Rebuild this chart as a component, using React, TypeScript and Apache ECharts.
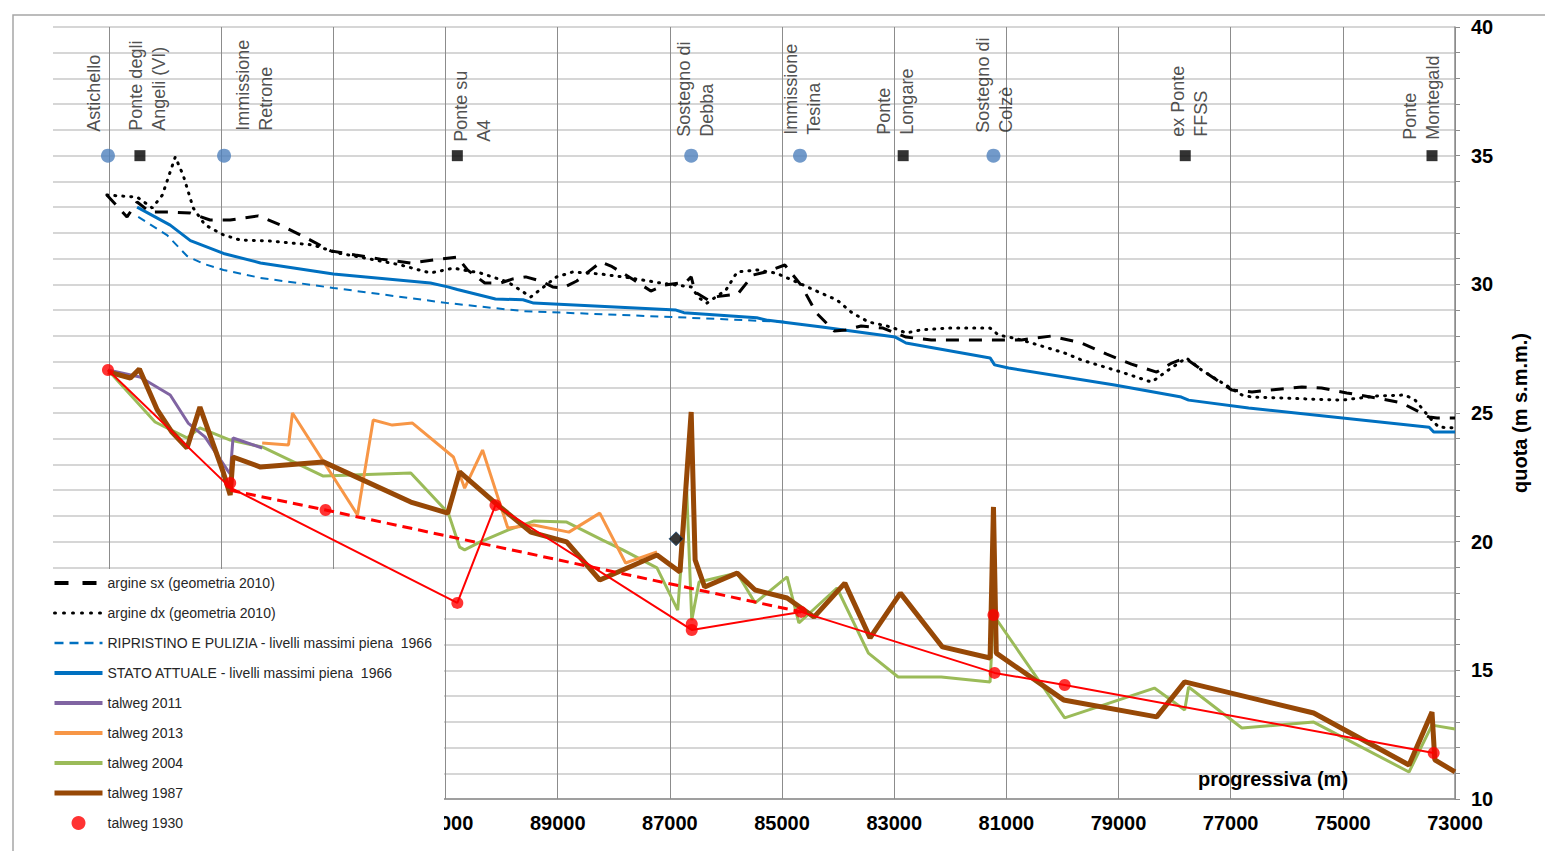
import React, { useEffect, useRef } from "react";
import * as echarts from "echarts";

// ---------------- DATA ----------------
// progressiva (m), quota (m s.m.m.)
const argineSx: number[][] = [
  [97040, 33.47], [96680, 32.62], [96500, 33.2], [96270, 32.81], [95910, 32.81], [95550, 32.77],
  [95200, 32.5], [94840, 32.5], [94340, 32.66], [93950, 32.31], [93410, 31.72], [93050, 31.3],
  [92610, 31.14], [92160, 30.98], [91620, 30.83], [91120, 30.98], [90790, 31.06], [90610, 30.56],
  [90300, 30.05], [90020, 30.05], [89800, 30.21], [89570, 30.29], [89300, 30.13], [89090, 29.9],
  [88910, 29.86], [88660, 30.13], [88410, 30.56], [88230, 30.87], [88050, 30.71], [87640, 30.17],
  [87340, 29.74], [87090, 29.97], [86710, 30.09], [86620, 30.29], [86550, 29.7], [86320, 29.39],
  [86210, 29.51], [85790, 29.62], [85520, 30.36], [85290, 30.48], [84950, 30.75], [84660, 29.97],
  [84390, 28.89], [84070, 28.19], [83860, 28.23], [83590, 28.38], [83200, 28.3], [82790, 27.95],
  [82340, 27.84], [80730, 27.84], [80200, 27.99], [79660, 27.72], [79210, 27.29], [78770, 26.9],
  [78320, 26.59], [78050, 26.94], [77820, 27.14], [77430, 26.55], [76980, 25.89], [76620, 25.82],
  [75730, 26.01], [75380, 25.97], [74930, 25.78], [74390, 25.58], [73950, 25.39], [73460, 24.84],
  [73320, 24.81], [73000, 24.81],
];

const argineDx: number[][] = [
  [97040, 33.47], [96500, 33.39], [96230, 32.97], [96050, 33.47], [95820, 34.95], [95680, 34.25],
  [95500, 32.97], [95290, 32.31], [94960, 31.92], [94660, 31.72], [94120, 31.68], [93360, 31.53],
  [92930, 31.22], [92340, 30.98], [91800, 30.75], [91270, 30.44], [90860, 30.63], [90380, 30.44],
  [89890, 30.09], [89480, 29.51], [89020, 30.29], [88730, 30.48], [88230, 30.4], [87710, 30.25],
  [87160, 30.05], [86620, 29.9], [86480, 29.47], [86340, 29.27], [86000, 29.78], [85800, 30.48],
  [85450, 30.56], [85110, 30.44], [84700, 30.05], [84430, 29.78], [84020, 29.39], [83750, 28.89],
  [83460, 28.54], [83050, 28.34], [82790, 28.11], [82520, 28.23], [82040, 28.3], [81290, 28.3],
  [81140, 28.03], [80860, 27.91], [80550, 27.72], [79960, 27.33], [79660, 27.06], [78950, 26.59],
  [78410, 26.2], [78110, 26.67], [77790, 27.14], [77520, 26.67], [76800, 25.7], [76620, 25.62],
  [75020, 25.5], [74390, 25.66], [73890, 25.7], [73710, 25.5], [73460, 24.84], [73290, 24.45],
  [73000, 24.42],
];

const ripristino1966: number[][] = [
  [96480, 32.62], [95960, 31.9], [95610, 31.1], [95320, 30.8], [94960, 30.56], [94300, 30.25],
  [93000, 29.86], [90960, 29.27], [89620, 28.96], [86960, 28.73], [84930, 28.54],
];

const statoAttuale1966: number[][] = [
  [96500, 33.0], [95910, 32.3], [95550, 31.7], [94960, 31.2], [94300, 30.83], [93000, 30.4],
  [91270, 30.05], [90960, 29.9], [90790, 29.8], [90110, 29.43], [89620, 29.4], [89430, 29.27],
  [86890, 29.0], [86750, 28.9], [85450, 28.7], [85250, 28.6], [84290, 28.34], [82980, 27.95],
  [82790, 27.72], [81290, 27.14], [81210, 26.87], [80960, 26.75], [79070, 26.09], [77880, 25.62],
  [77750, 25.5], [76680, 25.19], [73460, 24.45], [73380, 24.26], [73000, 24.26],
];

const talweg2011: number[][] = [
  [97020, 26.67], [96450, 26.4], [95910, 25.7], [95590, 24.61], [95290, 24.07], [94890, 22.78],
  [94840, 22.63], [94790, 24.03], [94270, 23.64],
];

const talweg2013: number[][] = [
  [94270, 23.83], [93800, 23.76], [93730, 25.0], [92570, 21.04], [92290, 24.73], [91950, 24.53],
  [91590, 24.61], [90860, 23.29], [90660, 22.08], [90340, 23.56], [89890, 20.53], [89430, 20.65],
  [88800, 20.37], [88250, 21.11], [87790, 19.17], [87230, 19.6],
];

const talweg2004: number[][] = [
  [97020, 26.67], [96180, 24.65], [95610, 24.03], [95380, 24.42], [94840, 23.95], [94270, 23.68],
  [93180, 22.55], [91620, 22.67], [90950, 21.11], [90750, 19.79], [90660, 19.68], [90380, 19.99],
  [89890, 20.45], [89430, 20.8], [88840, 20.76], [88200, 20.06], [87840, 19.68], [87230, 18.98],
  [86860, 17.34], [86700, 22.0], [86610, 16.95], [86480, 18.43], [85800, 18.78], [85480, 17.62],
  [84910, 18.63], [84700, 16.84], [84020, 18.2], [83460, 15.67], [82930, 14.74], [82160, 14.74],
  [81290, 14.55], [81230, 17.15], [79960, 13.15], [78360, 14.31], [77820, 13.46], [77750, 14.35],
  [76800, 12.76], [75520, 12.99], [73820, 11.05], [73410, 12.87], [73000, 12.72],
];

const talweg1987: number[][] = [
  [97020, 26.6], [96620, 26.36], [96460, 26.71], [96140, 25.12], [95880, 24.26], [95610, 23.64],
  [95380, 25.23], [94960, 22.67], [94840, 21.81], [94790, 23.29], [94300, 22.9], [93180, 23.1],
  [91620, 21.54], [90960, 21.11], [90750, 22.71], [90110, 21.5], [89480, 20.37], [88840, 19.99],
  [88250, 18.51], [87230, 19.48], [86820, 18.82], [86620, 25.04], [86550, 19.29], [86380, 18.24],
  [85800, 18.78], [85480, 18.12], [84910, 17.81], [84430, 17.07], [83880, 18.39], [83430, 16.26],
  [82890, 18.0], [82140, 15.91], [81290, 15.48], [81230, 21.35], [81180, 15.67], [79980, 13.85],
  [78320, 13.19], [77820, 14.55], [75520, 13.34], [73820, 11.32], [73410, 13.38], [73360, 11.52],
  [73000, 11.05],
];

const talweg1930: number[][] = [
  [97020, 26.67], [94840, 22.28], [93140, 21.23], [90790, 17.62], [90110, 21.42], [86610, 16.8],
  [86610, 16.57], [84660, 17.27], [81230, 17.15], [81210, 14.9], [79960, 14.43], [73380, 11.79],
];

const talweg1930Linea: number[][] = [
  [97020, 26.67], [94840, 22.1], [90790, 17.62], [90110, 21.42], [86610, 16.57], [84660, 17.27],
  [81210, 14.9], [79960, 14.43], [73380, 11.79],
];

const talweg1930Tratteggio: number[][] = [[94840, 22.0], [93140, 21.23], [84660, 17.27]];

const puntoIsolato: number[][] = [[86890, 20.11]];

const stationLevel = 35;
const circleStations = ["Astichello", "Immissione\nRetrone", "Sostegno di\nDebba", "Immissione\nTesina", "Sostegno di\nColzè"];
const circleStationX = [97020, 94950, 86620, 84680, 81230];
const squareStations = ["Ponte degli\nAngeli (VI)", "Ponte su\nA4", "Ponte\nLongare", "ex Ponte\nFFSS", "Ponte\nMontegald"];
const squareStationX = [96450, 90790, 82840, 77810, 73410];

const legendNames = [
  "argine sx (geometria 2010)",
  "argine dx (geometria 2010)",
  "RIPRISTINO E PULIZIA - livelli massimi piena  1966",
  "STATO ATTUALE - livelli massimi piena  1966",
  "talweg 2011",
  "talweg 2013",
  "talweg 2004",
  "talweg 1987",
  "talweg 1930",
];

// ---------------- STYLE / LAYOUT ----------------
// legend icon line styles, in legend order (last one is a marker)
const legendLineStyles: any[] = [
  { width: 4, type: [14, 14] },
  { width: 3, type: [1, 8], cap: "round" },
  { width: 2.5, type: [9, 6] },
  { width: 4 },
  { width: 4 },
  { width: 4 },
  { width: 4 },
  { width: 5 },
  null,
];
// label shifts: [dx right, px above marker]
const circleLabelShift = [[-14, 24], [30, 25], [4, 19], [3, 21], [1, 23]];
const squareLabelShift = [[8, 25], [15, 14], [-8, 21], [4, 19], [-11, 16]];

const FONT = "'Liberation Sans', Arial, sans-serif";

function lineSeries(name: string, data: number[][], color: string, width: number, type: any = "solid", extra: any = {}) {
  return {
    type: "line",
    name,
    data,
    symbol: "none",
    showSymbol: false,
    smooth: false,
    silent: true,
    emphasis: { disabled: true },
    itemStyle: { color },
    lineStyle: { color, width, type, ...(extra.lineStyle || {}) },
    z: extra.z ?? 2,
  };
}

function buildOption() {
  const labelBase = {
    show: true,
    formatter: "{b}",
    rotate: 90,
    align: "left",
    verticalAlign: "middle",
    fontSize: 18,
    lineHeight: 23,
    fontFamily: FONT,
    color: "#222",
  };
  const hiddenSymbol = { color: "rgba(0,0,0,0)", borderColor: "rgba(0,0,0,0)", borderWidth: 0, opacity: 0 };
  return {
    animation: false,
    backgroundColor: "#ffffff",
    grid: { left: 53, right: 90, top: 27, bottom: 52, outerBoundsMode: "none", containLabel: false },
    legend: {
      data: legendNames.map((n, i) =>
        legendLineStyles[i] ? { name: n, itemStyle: hiddenSymbol, lineStyle: legendLineStyles[i] } : { name: n }
      ),
      orient: "vertical",
      left: 52,
      top: 576,
      padding: 0,
      itemWidth: 48,
      itemHeight: 14,
      itemGap: 16,
      selectedMode: false,
      textStyle: { fontSize: 14, fontFamily: FONT, color: "#262626" },
      z: 6,
    },
    xAxis: {
      type: "value",
      min: 73000,
      max: 98000,
      interval: 1000,
      inverse: true,
      axisLine: { show: true, onZero: false, lineStyle: { color: "#8c8c8c", width: 1.5 } },
      axisTick: { show: false },
      axisLabel: {
        formatter: (v: number) => ((v / 1000) % 2 === 1 && v <= 91000 ? String(v) : ""),
        color: "#000",
        fontWeight: "bold",
        fontSize: 20,
        fontFamily: FONT,
        margin: 14,
        hideOverlap: false,
        showMinLabel: true,
        showMaxLabel: true,
      },
      splitLine: { show: true, lineStyle: { color: ["#8c8c8c", "rgba(0,0,0,0)"], width: 1 } },
    },
    yAxis: {
      type: "value",
      position: "right",
      min: 10,
      max: 40,
      interval: 1,
      name: "quota (m s.m.m.)",
      nameLocation: "middle",
      nameRotate: 90,
      nameGap: 55,
      nameTextStyle: { fontWeight: "bold", fontSize: 20, fontFamily: FONT, color: "#000" },
      axisLine: { show: true, onZero: false, lineStyle: { color: "#8c8c8c", width: 1.5 } },
      axisTick: { show: true, length: 5, lineStyle: { color: "#8c8c8c" } },
      axisLabel: {
        formatter: (v: number) => (v % 5 === 0 ? String(v) : ""),
        color: "#000",
        fontWeight: "bold",
        fontSize: 20,
        fontFamily: FONT,
        margin: 16,
        hideOverlap: false,
      },
      splitLine: { show: true, lineStyle: { color: "#c8c8c8", width: 1.5 } },
    },
    graphic: [
      {
        type: "rect",
        shape: { x: 14, y: 569, width: 430, height: 300 },
        style: { fill: "#ffffff" },
        z: 1,
        silent: true,
      },
      {
        type: "rect",
        shape: { x: 13, y: 15, width: 1600, height: 900 },
        style: { fill: "none", stroke: "#a6a6a6", lineWidth: 1.5 },
        z: 3,
        silent: true,
      },
      {
        type: "text",
        x: 1198,
        y: 769,
        style: { text: "progressiva (m)", fontSize: 20, fontWeight: "bold", fontFamily: FONT, fill: "#000" },
        z: 10,
        silent: true,
      },
    ],
    series: [
      lineSeries("talweg 2004", talweg2004, "#9BBB59", 3),
      lineSeries("talweg 2013", talweg2013, "#F79646", 3),
      lineSeries("talweg 2011", talweg2011, "#8064A2", 3),
      lineSeries("talweg 1987", talweg1987, "#974806", 5),
      lineSeries("talweg 1930 - linea", talweg1930Linea, "#FF0000", 2),
      lineSeries("talweg 1930 - tratteggio", talweg1930Tratteggio, "#FF0000", 3, [10, 6]),
      lineSeries("RIPRISTINO E PULIZIA - livelli massimi piena  1966", ripristino1966, "#0070C0", 2, [8, 6]),
      lineSeries("STATO ATTUALE - livelli massimi piena  1966", statoAttuale1966, "#0070C0", 3),
      lineSeries("argine sx (geometria 2010)", argineSx, "#000000", 3, [13, 10]),
      lineSeries("argine dx (geometria 2010)", argineDx, "#000000", 3, [1, 7], { lineStyle: { cap: "round" } }),
      {
        type: "scatter",
        name: "talweg 1930",
        data: talweg1930,
        symbol: "circle",
        symbolSize: 12,
        itemStyle: { color: "#FF0000" },
        silent: true,
        z: 4,
      },
      {
        type: "scatter",
        name: "punto",
        data: puntoIsolato,
        symbol: "diamond",
        symbolSize: 14,
        itemStyle: { color: "#050505", borderColor: "#1F4E79", borderWidth: 1 },
        silent: true,
        z: 4,
      },
      {
        type: "scatter",
        name: "immissioni e sostegni",
        symbol: "circle",
        symbolSize: 14,
        itemStyle: { color: "#4F81BD" },
        silent: true,
        label: labelBase,
        data: circleStationX.map((x, i) => ({
          name: circleStations[i],
          value: [x, stationLevel],
          label: { position: [7 + circleLabelShift[i][0], 7 - circleLabelShift[i][1]] },
        })),
        z: 4,
      },
      {
        type: "scatter",
        name: "ponti",
        symbol: "rect",
        symbolSize: 11,
        itemStyle: { color: "#000000" },
        silent: true,
        label: labelBase,
        data: squareStationX.map((x, i) => ({
          name: squareStations[i],
          value: [x, stationLevel],
          label: { position: [5.5 + squareLabelShift[i][0], 5.5 - squareLabelShift[i][1]] },
        })),
        z: 4,
      },
    ],
  };
}

export default function App() {
  const ref = useRef<HTMLDivElement>(null);
  useEffect(() => {
    if (!ref.current) return;
    const chart = echarts.init(ref.current, null, { renderer: "svg" });
    chart.setOption(buildOption() as any);
    return () => chart.dispose();
  }, []);
  return (
    <div
      ref={ref}
      style={{ position: "fixed", left: 0, top: 0, width: 1545, height: 851, background: "#ffffff" }}
    />
  );
}
